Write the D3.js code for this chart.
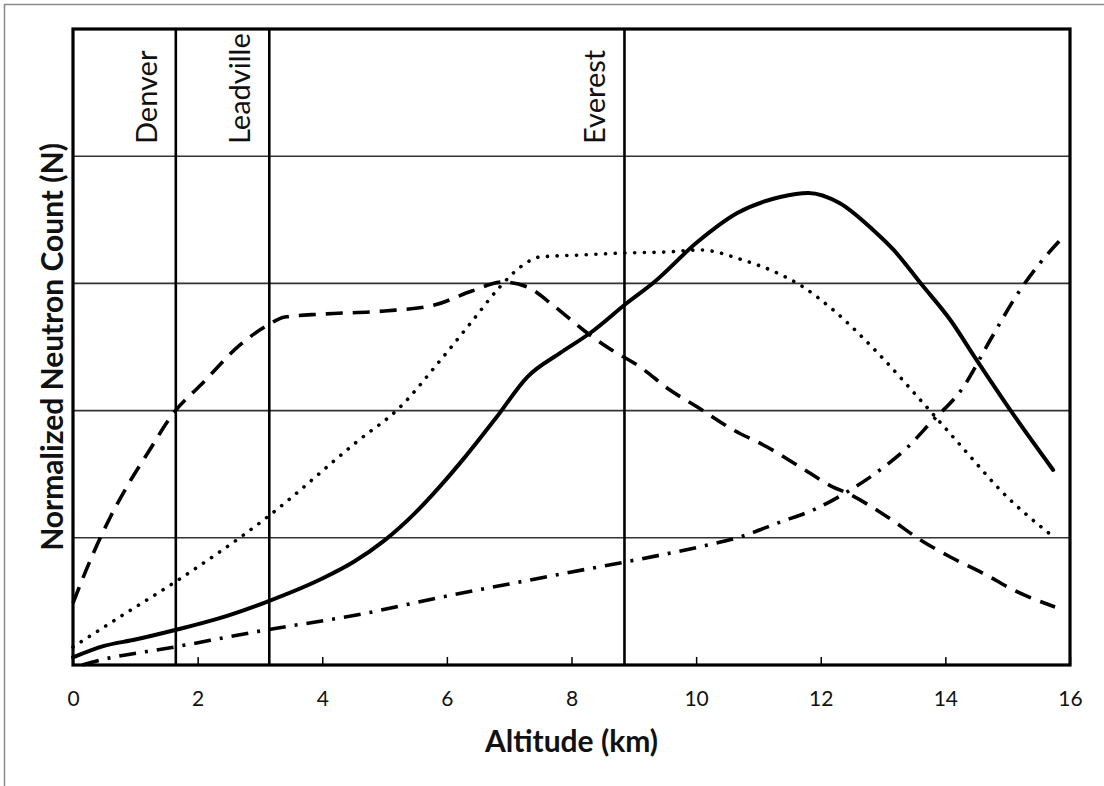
<!DOCTYPE html>
<html>
<head>
<meta charset="utf-8">
<script src="https://cdn.jsdelivr.net/npm/d3@7"></script>
<style>
  body { margin: 0; background: #fff; }
  svg { display: block; }
  .tick-label { font-family: Lato, "Open Sans", sans-serif; font-size: 21px; fill: #111; }
  .axis-title { font-family: Lato, "Open Sans", sans-serif; font-size: 30px; font-weight: bold; fill: #111; }
  .place { font-family: Lato, "Open Sans", sans-serif; font-size: 29px; fill: #111; }
</style>
</head>
<body>
<script>
// altitude (km) / normalized neutron count
const solidAlt = [0, 0.5, 1, 1.64, 2.3, 3.1, 4, 4.5, 5, 5.5, 5.9, 6.3, 6.8, 7.29, 7.82, 8.3, 8.89, 9.31, 10.02, 10.66, 11.35, 11.8, 12.3, 12.84, 13.17, 13.6, 14.08, 14.5, 15.04, 15.73];
const solidN = [0.06, 0.15, 0.2, 0.275, 0.36, 0.495, 0.68, 0.81, 0.98, 1.2, 1.41, 1.64, 1.95, 2.264, 2.453, 2.61, 2.846, 3.003, 3.325, 3.553, 3.679, 3.711, 3.632, 3.42, 3.263, 3.003, 2.712, 2.398, 2.005, 1.533];

const dashAlt = [0, 0.3, 0.6, 0.9, 1.2, 1.64, 2.05, 2.68, 3.13, 3.4, 4, 5, 5.8, 6.4, 6.9, 7.29, 7.7, 8.19, 8.57, 9.1, 9.58, 10.02, 10.6, 11.14, 11.67, 12.2, 12.42, 13.07, 13.6, 14.08, 14.6, 15.09, 15.76];
const dashN = [0.487, 0.849, 1.164, 1.431, 1.667, 1.997, 2.201, 2.516, 2.673, 2.736, 2.759, 2.783, 2.83, 2.94, 3.011, 2.972, 2.83, 2.634, 2.5, 2.343, 2.162, 2.028, 1.847, 1.714, 1.557, 1.399, 1.352, 1.164, 0.983, 0.849, 0.723, 0.59, 0.456];

const dotAlt = [0, 0.8, 1.64, 3.1, 4.55, 5.25, 5.9, 6.42, 6.85, 7.18, 7.5, 8.14, 8.83, 9.53, 10.06, 10.75, 11.3, 11.67, 12.2, 12.9, 13.6, 14.35, 14.88, 15.76];
const dotN = [0.142, 0.393, 0.653, 1.156, 1.753, 2.028, 2.398, 2.712, 2.972, 3.129, 3.208, 3.223, 3.239, 3.247, 3.263, 3.184, 3.082, 2.987, 2.791, 2.461, 2.083, 1.667, 1.376, 0.998];

const dashDotAlt = [0.15, 0.32, 1.64, 3.1, 4.55, 6, 7, 8, 8.86, 10.18, 10.7, 11.35, 11.88, 12.42, 12.95, 13.38, 13.76, 14.29, 14.72, 15.2, 15.52, 15.88];
const dashDotN = [0, 0.024, 0.142, 0.275, 0.393, 0.542, 0.637, 0.731, 0.81, 0.943, 1.006, 1.124, 1.219, 1.36, 1.533, 1.706, 1.903, 2.186, 2.555, 2.948, 3.16, 3.36];

const places = ["Denver", "Leadville", "Everest"];
const placeAlt = [1.65, 3.15, 8.85];

const xTicks = [0, 2, 4, 6, 8, 10, 12, 14, 16];
const yGrid = [1, 2, 3, 4];

const W = 1104, H = 786;
const margin = { top: 29, right: 34, bottom: 121, left: 73 };
const width = W - margin.left - margin.right;
const height = H - margin.top - margin.bottom;

const svg = d3.select("body").append("svg").attr("width", W).attr("height", H);

// outer frame (runs off the right/bottom of the picture)
svg.append("rect")
  .attr("x", 4.5).attr("y", 4.5)
  .attr("width", W + 10).attr("height", H + 10)
  .attr("fill", "none").attr("stroke", "#8a8a8a").attr("stroke-width", 1.5);

const g = svg.append("g").attr("transform", `translate(${margin.left},${margin.top})`);

const x = d3.scaleLinear().domain([0, 16]).range([0, width]);
const y = d3.scaleLinear().domain([0, 5]).range([height, 0]);

// horizontal grid
g.append("g")
  .selectAll("line")
  .data(yGrid)
  .join("line")
  .attr("x1", 0).attr("x2", width)
  .attr("y1", (d) => y(d)).attr("y2", (d) => y(d))
  .attr("stroke", "#333").attr("stroke-width", 1.6);

// x axis: inward ticks, labels below
const xAxis = d3.axisBottom(x).tickValues(xTicks).tickSize(-8).tickPadding(26).tickFormat(d3.format("d"));
const ax = g.append("g").attr("transform", `translate(0,${height})`).call(xAxis);
ax.select(".domain").remove();
ax.selectAll(".tick line").attr("stroke", "#000").attr("stroke-width", 1.5);
ax.selectAll(".tick text").attr("class", "tick-label").attr("fill", null);

// landmark verticals
g.append("g")
  .selectAll("line")
  .data(placeAlt)
  .join("line")
  .attr("x1", (d) => x(d)).attr("x2", (d) => x(d))
  .attr("y1", 0).attr("y2", height)
  .attr("stroke", "#000").attr("stroke-width", 2.6);

g.append("g")
  .selectAll("text")
  .data(places)
  .join("text")
  .attr("class", "place")
  .attr("transform", (d, i) => `translate(${x(placeAlt[i]) - 19},115) rotate(-90)`)
  .text((d) => d);

// curves
const line = d3.line()
  .x((d) => x(d[0]))
  .y((d) => y(d[1]))
  .curve(d3.curveMonotoneX);

const series = [
  { alt: dotAlt, n: dotN, dash: "0.1,9.6", cap: "round", w: 3.6 },
  { alt: dashDotAlt, n: dashDotN, dash: "17,9,3,9", cap: "butt", w: 3.6 },
  { alt: dashAlt, n: dashN, dash: "17,10", cap: "butt", w: 3.6 },
  { alt: solidAlt, n: solidN, dash: null, cap: "round", w: 4 },
];

series.forEach((s) => {
  g.append("path")
    .datum(s.alt.map((a, i) => [a, s.n[i]]))
    .attr("fill", "none")
    .attr("stroke", "#000")
    .attr("stroke-width", s.w)
    .attr("stroke-linecap", s.cap)
    .attr("stroke-dasharray", s.dash)
    .attr("d", line);
});

// plot border
g.append("rect")
  .attr("width", width).attr("height", height)
  .attr("fill", "none").attr("stroke", "#000").attr("stroke-width", 3.2);

// titles
svg.append("text")
  .attr("class", "axis-title")
  .attr("x", margin.left + width / 2).attr("y", 752)
  .attr("text-anchor", "middle")
  .text("Altitude (km)");

svg.append("text")
  .attr("class", "axis-title")
  .attr("transform", `translate(63,${margin.top + height / 2}) rotate(-90)`)
  .attr("text-anchor", "middle")
  .text("Normalized Neutron Count (N)");
</script>
</body>
</html>
